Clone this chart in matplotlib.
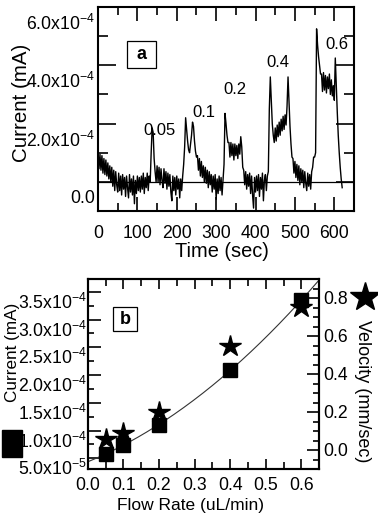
import numpy as np
import matplotlib
matplotlib.use("Agg")
import matplotlib.pyplot as plt
from matplotlib.ticker import MultipleLocator, FixedLocator, FormatStrFormatter
from matplotlib.transforms import ScaledTranslation
from matplotlib.patches import Rectangle
from matplotlib.lines import Line2D

plt.rcParams['font.family'] = ['Liberation Sans', 'DejaVu Sans']
plt.rcParams['mathtext.fontset'] = 'custom'
plt.rcParams['mathtext.rm'] = 'Liberation Sans'
plt.rcParams['mathtext.it'] = 'Liberation Sans:italic'
plt.rcParams['mathtext.bf'] = 'Liberation Sans:bold'

# ---------------- data: panel a (current trace, units of 1e-4 mA, sampled every 2.5 s)
sample_interval = 2.5
trace_e4 = [
    # 0-30 s
    1.05, 0.45, 0.95, 0.40, 0.90, 0.30, 0.80, 0.25, 0.75, 0.20, 0.65, 0.10, 0.55,
    # 32.5-105 s
    0.00, 0.50, -0.15, 0.40, -0.30, 0.35, -0.10, -0.35, 0.30, -0.30, 0.20, -0.45, 0.25, -0.25, 0.15,
    -0.50, 0.20, -0.20, -0.55, 0.25, -0.35, 0.10, -0.45, 0.20, -0.75, 0.05, -0.40, 0.20, -0.30, 0.15,
    # 107.5-132.5 s
    -0.35, 0.20, -0.25, 0.30, -0.40, 0.15, -0.20, 0.30, -0.30, 0.20, 0.00,
    # 0.05 uL/min peak
    1.00, 1.85, 1.70, 0.80, 0.35,
    # 147.5-212.5 s
    0.00, 0.55, 0.00, 0.50, -0.10, 0.45, 0.05, -0.20, 0.45, -0.05, 0.35, -0.25, 0.30, -0.15,
    0.25, -0.35, -0.65, 0.20, -0.30, 0.15, -0.45, 0.20, -0.25, 0.10, -0.55, 0.10, -0.30,
    # 0.1 uL/min double peak
    0.20, 0.60, 1.20, 2.20, 1.80, 1.40, 1.10, 1.00, 1.30, 1.60, 2.05, 1.90, 1.40, 1.05, 0.85,
    # 252.5-317.5 s
    0.90, 0.40, 0.80, 0.20, 0.70, 0.15, 0.55, 0.00, 0.50, -0.05, 0.40, -0.20, 0.35, -0.10,
    0.25, -0.35, 0.20, -0.25, 0.25, -0.60, 0.10, -0.40, 0.20, -0.30, 0.15, -0.45, 0.05,
    # 0.2 uL/min peak
    0.60, 2.35, 2.00, 1.60, 1.35,
    # plateau
    1.35, 0.85, 1.35, 0.90, 1.30, 0.75, 1.30, 0.90, 1.25, 0.80, 1.30, 0.95,
    1.55, 1.20, 0.50,
    # 370-432.5 s
    0.40, -0.10, 0.35, -0.25, 0.25, -0.15, 0.30, -0.40, 0.20, -0.45, -0.90, 0.15, -0.35,
    0.20, -0.30, 0.25, -0.50, 0.15, -0.25, 0.30, -0.65, 0.05, 0.25, -0.30, 0.20, 0.35,
    # 0.4 uL/min
    2.50, 3.60, 2.80, 2.00, 1.60,
    1.35, 1.85, 1.40, 1.95, 1.55, 2.05, 1.60, 2.15, 1.75, 2.25, 1.80, 2.30, 1.95,
    2.60, 3.60, 2.70, 1.90, 1.30, 0.85,
    # 495-547.5 s
    0.80, 0.30, 0.70, 0.15, 0.60, 0.05, 0.55, -0.10, 0.45, 0.00, 0.40, -0.20, 0.35, -0.05,
    -0.30, 0.30, -0.15, 0.25, -0.25, 0.35, 0.50, 0.85,
    # 0.6 uL/min
    0.85, 1.00, 5.25, 4.70, 4.30, 4.00, 3.70,
    3.70, 3.10, 3.75, 3.15, 3.65, 3.05, 3.60, 3.20, 3.70, 3.00, 3.50, 2.95, 3.30,
    2.80, 4.25, 3.30, 2.40, 1.60, 1.00, 0.50, 0.10, -0.20,
]
peak_labels = ["0.05", "0.1", "0.2", "0.4", "0.6"]
peak_label_t = [157, 268, 347, 457, 606]
peak_label_v = [1.76e-4, 2.37e-4, 3.18e-4, 4.10e-4, 4.70e-4]
time_ticks = [0, 100, 200, 300, 400, 500, 600]

# ---------------- data: panel b
flow_rate = [0.05, 0.1, 0.2, 0.4, 0.6]
current_b = [0.578e-4, 0.74e-4, 1.10e-4, 2.09e-4, 3.35e-4]
velocity = [0.056, 0.091, 0.198, 0.548, 0.752]
flow_ticks = [0.0, 0.1, 0.2, 0.3, 0.4, 0.5, 0.6]
velocity_ticks = [0.0, 0.2, 0.4, 0.6, 0.8]

W, H, DPI = 378, 514, 100
fig = plt.figure(figsize=(W / DPI, H / DPI), dpi=DPI)

def frac_axes(left, right, top, bottom):
    return fig.add_axes([left / W, 1 - bottom / H, (right - left) / W, (bottom - top) / H])

def sci_label(v, exp):
    return r"%.1fx10$^{%d}$" % (v, exp)

TICK_FS = 12.7
SPINE_W = 1.5

# ================= panel a =================
axa = frac_axes(98, 354, 7, 211)
t = np.arange(len(trace_e4)) * sample_interval
cur = np.array(trace_e4) * 1e-4
axa.axhline(0, color='black', lw=0.9, zorder=1)
axa.plot(t, cur, color='black', lw=1.0, zorder=2)
axa.set_xlim(0, 650)
axa.set_ylim(-1e-4, 6e-4)

axa.xaxis.set_major_locator(FixedLocator(time_ticks))
axa.xaxis.set_minor_locator(FixedLocator([v + 50 for v in time_ticks]))
axa.xaxis.set_major_formatter(FormatStrFormatter('%d'))
axa.yaxis.set_major_locator(FixedLocator([0, 2e-4, 4e-4, 6e-4]))
axa.yaxis.set_minor_locator(FixedLocator([1e-4, 3e-4, 5e-4]))
axa.set_yticklabels(["0.0", sci_label(2.0, -4), sci_label(4.0, -4), sci_label(6.0, -4)])
axa.tick_params(which='both', direction='in', top=True, right=True, width=1.2, labelsize=TICK_FS)
axa.tick_params(axis='x', which='major', length=10, pad=10)
axa.tick_params(axis='x', which='minor', length=6)
axa.tick_params(axis='y', which='major', length=13, pad=2)
axa.tick_params(axis='y', which='minor', length=7)
for s in axa.spines.values():
    s.set_linewidth(SPINE_W)
offa = ScaledTranslation(0, -15 / DPI, fig.dpi_scale_trans)
for tk in axa.yaxis.get_major_ticks():
    tk.label1.set_transform(tk.label1.get_transform() + offa)

axa.set_xlabel("Time (sec)", fontsize=14.4)
axa.xaxis.set_label_coords(0.484, -0.20)
axa.xaxis.label.set_va('center')
axa.set_ylabel("Current (mA)", fontsize=14.8)
axa.yaxis.set_label_coords(-0.298, 0.528)
axa.yaxis.label.set_va('center')

for lab, tx, vy in zip(peak_labels, peak_label_t, peak_label_v):
    axa.text(tx, vy, lab, fontsize=12, ha='center', va='center', zorder=3)

axa.add_patch(Rectangle((0.113, 0.70), 0.113, 0.135, transform=axa.transAxes,
                        facecolor='white', edgecolor='black', lw=0.9, zorder=4))
axa.text(0.17, 0.767, "a", transform=axa.transAxes, fontsize=13, fontweight='bold',
         ha='center', va='center', zorder=5)

# ================= panel b =================
axb = frac_axes(87.7, 319.3, 279, 469)
axv = axb.twinx()
axb.set_xlim(0, 0.65)
axb.set_ylim(0.307e-4, 3.73e-4)
axv.set_ylim(-0.1, 0.9)

coef = np.polyfit(flow_rate, current_b, 2)
xf = np.linspace(0, 0.67, 200)
axb.plot(xf, np.polyval(coef, xf), color='#333333', lw=0.8, zorder=2)
axb.plot(flow_rate, current_b, 's', color='black', ms=9.5, zorder=3)
axv.plot(flow_rate, velocity, '*', color='black', ms=16, zorder=4)

axb.xaxis.set_major_locator(FixedLocator(flow_ticks))
axb.xaxis.set_minor_locator(FixedLocator([v + 0.05 for v in flow_ticks]))
axb.xaxis.set_major_formatter(FormatStrFormatter('%.1f'))
left_major = [0.5e-4, 1.0e-4, 1.5e-4, 2.0e-4, 2.5e-4, 3.0e-4, 3.5e-4]
axb.yaxis.set_major_locator(FixedLocator(left_major))
axb.yaxis.set_minor_locator(FixedLocator([v + 0.25e-4 for v in left_major]))
axb.set_yticklabels([sci_label(5.0, -5)] + [sci_label(v * 1e4, -4) for v in left_major[1:]])
axb.tick_params(which='both', direction='in', top=True, right=False, width=1.2, labelsize=TICK_FS)
axb.tick_params(axis='x', which='major', length=7, pad=6)
axb.tick_params(axis='x', which='minor', length=5)
axb.tick_params(axis='y', which='major', length=9, pad=1)
axb.tick_params(axis='y', which='minor', length=4.5)
offb = ScaledTranslation(0, -9 / DPI, fig.dpi_scale_trans)
for tk in axb.yaxis.get_major_ticks():
    tk.label1.set_transform(tk.label1.get_transform() + offb)

axv.yaxis.set_major_locator(FixedLocator(velocity_ticks))
axv.yaxis.set_minor_locator(MultipleLocator(0.05))
axv.yaxis.set_major_formatter(FormatStrFormatter('%.1f'))
axv.tick_params(which='both', direction='in', width=1.2, labelsize=TICK_FS)
axv.tick_params(axis='y', which='major', length=9, pad=3)
axv.tick_params(axis='y', which='minor', length=4.5)
for ax in (axb, axv):
    for s in ax.spines.values():
        s.set_linewidth(SPINE_W)

axb.set_xlabel("Flow Rate (uL/min)", fontsize=12.5)
axb.xaxis.set_label_coords(0.442, -0.19)
axb.xaxis.label.set_va('center')
axb.set_ylabel("Current (mA)", fontsize=12.3)
axb.yaxis.set_label_coords(-0.323, 0.616)
axb.yaxis.label.set_va('center')
axv.set_ylabel("Velocity (mm/sec)", fontsize=13, rotation=-90)
axv.yaxis.set_label_coords(1.185, 0.41)
axv.yaxis.label.set_va('center')

axb.add_patch(Rectangle((0.109, 0.726), 0.104, 0.126, transform=axb.transAxes,
                        facecolor='white', edgecolor='black', lw=0.9, zorder=5))
axb.text(0.161, 0.789, "b", transform=axb.transAxes, fontsize=13, fontweight='bold',
         ha='center', va='center', zorder=6)

# legend-like symbols beside the axes
fig.add_artist(Rectangle((2 / W, 1 - 457 / H), 20 / W, 27 / H, transform=fig.transFigure,
                         facecolor='black', edgecolor='black'))
fig.add_artist(Line2D([365 / W], [1 - 297 / H], marker='*', ms=22, color='black',
                      transform=fig.transFigure))

fig.savefig("out.png", dpi=DPI)
